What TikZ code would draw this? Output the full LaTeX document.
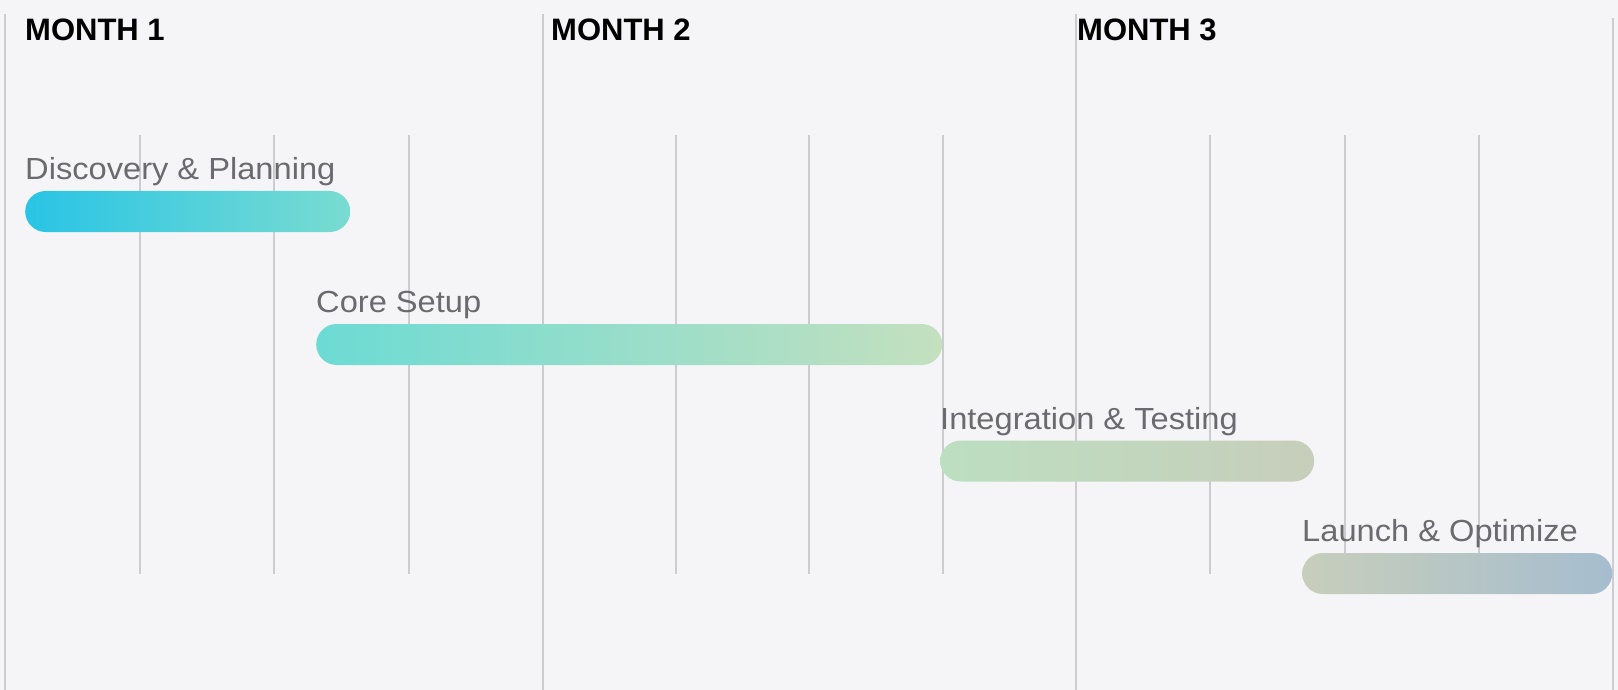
\documentclass[tikz,border=0pt]{standalone}
\usepackage{fontspec}
\setmainfont{Liberation Sans}
\newfontfamily\etiqfont[FakeStretch=1.07]{Liberation Sans}

\definecolor{fond}{HTML}{F5F5F7}
\definecolor{grille}{HTML}{CDCDD0}
\definecolor{texte}{HTML}{6A6A6F}
% couleurs des barres
\definecolor{cyanA}{HTML}{29C4E5}
\definecolor{turqB}{HTML}{6CDBD4}
\definecolor{vertC}{HTML}{C4E0BF}
\definecolor{jauneD}{HTML}{E1D7A6}
\definecolor{grisE}{HTML}{C7CEBB}
\definecolor{bleuF}{HTML}{A6BDCF}

\begin{document}
\begin{tikzpicture}[x=1pt, y=-1pt,
    mois/.style={font=\fontsize{31}{36}\selectfont\bfseries, anchor=base west, inner sep=0pt},
    etiq/.style={font=\etiqfont\fontsize{30.5}{36}\selectfont, text=texte, anchor=base west, inner sep=0pt},
    barre/.style={rounded corners=20.5pt, minimum height=41pt, inner sep=0pt, anchor=west},
    ligne mois/.style={grille, line width=2pt},
    ligne sem/.style={grille, line width=1.5pt}]

    % Fond
    \fill[fond] (0,0) rectangle (1618,690);
    \useasboundingbox (0,0) rectangle (1618,690);

    % Lignes des mois
    \draw[ligne mois] (5,14) -- (5,690);
    \draw[ligne mois] (543,14) -- (543,690);
    \draw[ligne mois] (1076,14) -- (1076,690);
    \draw[ligne mois] (1613,18) -- (1613,690);

    % Lignes des semaines
    \foreach \x in {140,274,409,676,809,943,1210,1345,1479}
        \draw[ligne sem] (\x,135) -- (\x,574);

    % Titres des mois
    \node[mois] (m1) at (25,41) {MONTH 1};
    \node[mois] (m2) at (551,41) {MONTH 2};
    \node[mois] (m3) at (1077,41) {MONTH 3};

    % Barres des phases
    \node[barre, minimum width=325pt, left color=cyanA, right color=turqB!85!vertC] (disc) at (25,211.5) {};
    \node[barre, minimum width=626pt, left color=turqB, right color=vertC] (core) at (316,344.5) {};
    \node[barre, minimum width=374pt, left color=vertC!95!cyanA, middle color=jauneD, right color=grisE] (integ) at (940,461) {};
    \node[barre, minimum width=310pt, left color=grisE, right color=bleuF] (launch) at (1302,573.5) {};

    % Etiquettes
    \node[etiq] (discLbl) at ([yshift=11pt]disc.north west) {Discovery \& Planning};
    \node[etiq] (coreLbl) at ([yshift=11pt]core.north west) {Core Setup};
    \node[etiq] (integLbl) at ([yshift=11pt]integ.north west) {Integration \& Testing};
    \node[etiq] (launchLbl) at ([yshift=11pt]launch.north west) {Launch \& Optimize};
\end{tikzpicture}
\end{document}
